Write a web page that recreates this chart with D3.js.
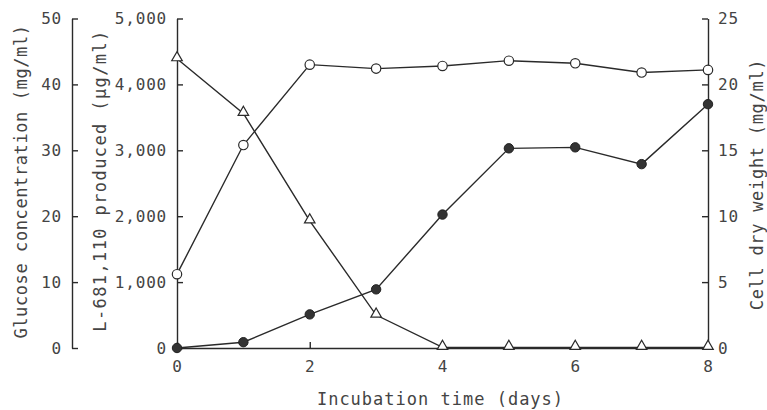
<!DOCTYPE html>
<html>
<head>
<meta charset="utf-8">
<script src="https://cdnjs.cloudflare.com/ajax/libs/d3/7.8.5/d3.min.js"></script>
<style>
    body { margin: 0; background: #fff; }
    text { font-family: "DejaVu Sans Mono", monospace; fill: #444; }
    .axis text { font-size: 16px; letter-spacing: 0.8px; }
    .axis path, .axis line { stroke: #2a2a2a; stroke-width: 1.4; }
    .title { font-size: 17px; text-anchor: middle; }
</style>
</head>
<body>
<script>
var width = 767;
var height = 410;
var margin = {
    top: 18.5,
    bottom: 62,
    left: 177,
    right: 59
};

// data
var days = [0, 1, 2, 3, 4, 5, 6, 7, 8];
var glucose = [43.9, 35.6, 19.3, 5.0, 0.1, 0.1, 0.1, 0.1, 0.1];        // mg/ml
var produced = [0, 88, 510, 890, 2025, 3030, 3045, 2790, 3700];        // ug/ml
var dryWeight = [5.6, 15.4, 21.5, 21.2, 21.4, 21.8, 21.6, 20.9, 21.1]; // mg/ml

var xTicks = [0, 2, 4, 6, 8];
var glucoseTicks = [0, 10, 20, 30, 40, 50];
var producedTicks = [0, 1000, 2000, 3000, 4000, 5000];
var weightTicks = [0, 5, 10, 15, 20, 25];

var w = width - margin.left - margin.right;
var h = height - margin.top - margin.bottom;

var svg = d3.select('body')
    .append('svg')
    .attr("width", width)
    .attr("height", height);

var chart = svg.append("g")
    .attr("transform", "translate(" + margin.left + "," + margin.top + ")");

var xScale = d3.scaleLinear().domain([0, 8]).range([0, w]);
var yGlucose = d3.scaleLinear().domain([0, 50]).range([h, 0]);
var yProduced = d3.scaleLinear().domain([0, 5000]).range([h, 0]);
var yWeight = d3.scaleLinear().domain([0, 25]).range([h, 0]);

// x axis, ticks pointing up
chart.append("g")
    .attr("class", "axis")
    .attr("transform", "translate(0," + h + ")")
    .call(d3.axisBottom(xScale)
        .tickValues(xTicks)
        .tickSizeInner(-6)
        .tickSizeOuter(0)
        .tickPadding(13));

// glucose axis, away on the left
chart.append("g")
    .attr("class", "axis")
    .attr("transform", "translate(-105,0)")
    .call(d3.axisLeft(yGlucose)
        .tickValues(glucoseTicks)
        .tickSizeInner(-6)
        .tickSizeOuter(0)
        .tickPadding(10));

// L-681,110 axis
chart.append("g")
    .attr("class", "axis")
    .call(d3.axisLeft(yProduced)
        .tickValues(producedTicks)
        .tickFormat(d3.format(","))
        .tickSizeInner(-6)
        .tickSizeOuter(0)
        .tickPadding(10));

// cell dry weight axis
chart.append("g")
    .attr("class", "axis")
    .attr("transform", "translate(" + w + ",0)")
    .call(d3.axisRight(yWeight)
        .tickValues(weightTicks)
        .tickSizeInner(-6)
        .tickSizeOuter(0)
        .tickPadding(10));

// axis titles
chart.append("text")
    .attr("class", "title")
    .attr("x", w / 2 - 2)
    .attr("y", h + 57)
    .style("letter-spacing", "1px")
    .text("Incubation time (days)");

chart.append("text")
    .attr("class", "title")
    .attr("transform", "rotate(-90)")
    .attr("x", -163)
    .attr("y", -150)
    .style("letter-spacing", "0.6px")
    .text("Glucose concentration (mg/ml)");

chart.append("text")
    .attr("class", "title")
    .attr("transform", "rotate(-90)")
    .attr("x", -162)
    .attr("y", -71)
    .style("letter-spacing", "1.4px")
    .text("L-681,110 produced (\u00b5g/ml)");

chart.append("text")
    .attr("class", "title")
    .attr("transform", "rotate(-90)")
    .attr("x", -166)
    .attr("y", w + 55)
    .style("letter-spacing", "0.7px")
    .text("Cell dry weight (mg/ml)");

function drawLine(values, y) {
    var line = d3.line()
        .x(function (d, i) { return xScale(days[i]); })
        .y(function (d) { return y(d); });
    chart.append("path")
        .datum(values)
        .attr("d", line)
        .attr("fill", "none")
        .attr("stroke", "#2a2a2a")
        .attr("stroke-width", 1.4);
}

drawLine(glucose, yGlucose);
drawLine(produced, yProduced);
drawLine(dryWeight, yWeight);

// triangles for glucose
chart.selectAll(".tri")
    .data(glucose)
    .enter()
    .append("path")
    .attr("class", "tri")
    .attr("d", d3.symbol().type(d3.symbolTriangle).size(48))
    .attr("transform", function (d, i) {
        return "translate(" + xScale(days[i]) + "," + (yGlucose(d) - 1) + ")";
    })
    .attr("fill", "#fff")
    .attr("stroke", "#2a2a2a")
    .attr("stroke-width", 1.2);

// filled circles for L-681,110
chart.selectAll(".dot")
    .data(produced)
    .enter()
    .append("circle")
    .attr("class", "dot")
    .attr("cx", function (d, i) { return xScale(days[i]); })
    .attr("cy", function (d) { return yProduced(d); })
    .attr("r", 4.7)
    .attr("fill", "#333")
    .attr("stroke", "#222")
    .attr("stroke-width", 1);

// open circles for dry weight
chart.selectAll(".ring")
    .data(dryWeight)
    .enter()
    .append("circle")
    .attr("class", "ring")
    .attr("cx", function (d, i) { return xScale(days[i]); })
    .attr("cy", function (d) { return yWeight(d); })
    .attr("r", 4.7)
    .attr("fill", "#fff")
    .attr("stroke", "#2a2a2a")
    .attr("stroke-width", 1.2);
</script>
</body>
</html>
